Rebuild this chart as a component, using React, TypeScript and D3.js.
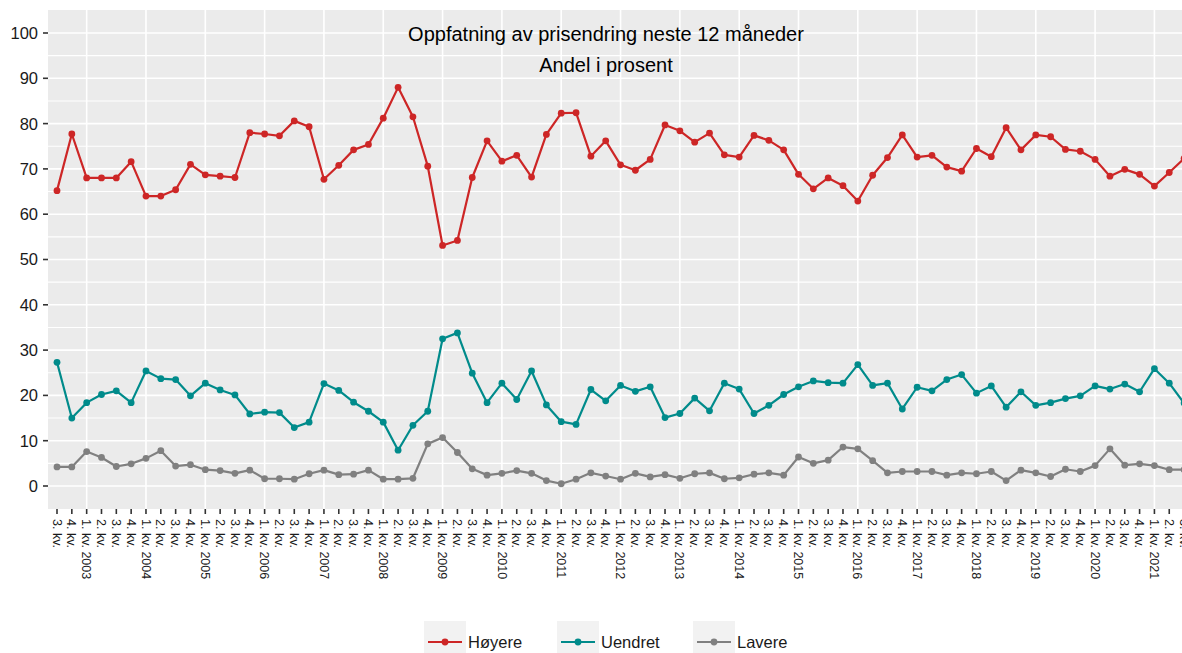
import React from "react";
import * as d3 from "d3";

const categories = [
  "3. kv. 2002", "4. kv. 2002",
  "1. kv. 2003", "2. kv. 2003", "3. kv. 2003", "4. kv. 2003",
  "1. kv. 2004", "2. kv. 2004", "3. kv. 2004", "4. kv. 2004",
  "1. kv. 2005", "2. kv. 2005", "3. kv. 2005", "4. kv. 2005",
  "1. kv. 2006", "2. kv. 2006", "3. kv. 2006", "4. kv. 2006",
  "1. kv. 2007", "2. kv. 2007", "3. kv. 2007", "4. kv. 2007",
  "1. kv. 2008", "2. kv. 2008", "3. kv. 2008", "4. kv. 2008",
  "1. kv. 2009", "2. kv. 2009", "3. kv. 2009", "4. kv. 2009",
  "1. kv. 2010", "2. kv. 2010", "3. kv. 2010", "4. kv. 2010",
  "1. kv. 2011", "2. kv. 2011", "3. kv. 2011", "4. kv. 2011",
  "1. kv. 2012", "2. kv. 2012", "3. kv. 2012", "4. kv. 2012",
  "1. kv. 2013", "2. kv. 2013", "3. kv. 2013", "4. kv. 2013",
  "1. kv. 2014", "2. kv. 2014", "3. kv. 2014", "4. kv. 2014",
  "1. kv. 2015", "2. kv. 2015", "3. kv. 2015", "4. kv. 2015",
  "1. kv. 2016", "2. kv. 2016", "3. kv. 2016", "4. kv. 2016",
  "1. kv. 2017", "2. kv. 2017", "3. kv. 2017", "4. kv. 2017",
  "1. kv. 2018", "2. kv. 2018", "3. kv. 2018", "4. kv. 2018",
  "1. kv. 2019", "2. kv. 2019", "3. kv. 2019", "4. kv. 2019",
  "1. kv. 2020", "2. kv. 2020", "3. kv. 2020", "4. kv. 2020",
  "1. kv. 2021", "2. kv. 2021", "3. kv. 2021",
];

const hoyere = [
  65.2, 77.7, 68.0, 68.0, 68.0, 71.6, 64.0, 64.0, 65.4, 71.0,
  68.7, 68.4, 68.1, 78.0, 77.7, 77.3, 80.6, 79.3, 67.7, 70.8,
  74.2, 75.4, 81.2, 88.0, 81.5, 70.6, 53.1, 54.2, 68.1, 76.2,
  71.7, 73.0, 68.2, 77.6, 82.3, 82.4, 72.8, 76.2, 70.9, 69.7,
  72.1, 79.7, 78.4, 75.9, 77.9, 73.1, 72.6, 77.4, 76.3, 74.2,
  68.8, 65.6, 68.0, 66.3, 62.9, 68.6, 72.5, 77.5, 72.6, 73.0,
  70.4, 69.5, 74.5, 72.7, 79.1, 74.2, 77.5, 77.1, 74.3, 73.9,
  72.1, 68.4, 69.9, 68.8, 66.2, 69.2, 72.3,
];

const uendret = [
  27.3, 15.0, 18.4, 20.2, 21.0, 18.4, 25.4, 23.7, 23.5, 19.9,
  22.7, 21.2, 20.1, 15.9, 16.3, 16.2, 12.9, 14.1, 22.6, 21.1,
  18.5, 16.5, 14.1, 7.9, 13.4, 16.5, 32.5, 33.8, 24.9, 18.4,
  22.7, 19.1, 25.4, 17.9, 14.2, 13.6, 21.3, 18.8, 22.2, 20.9,
  21.9, 15.1, 16.0, 19.4, 16.6, 22.7, 21.4, 16.0, 17.8, 20.2,
  21.9, 23.2, 22.8, 22.7, 26.8, 22.2, 22.7, 17.0, 21.8, 21.0,
  23.5, 24.6, 20.5, 22.1, 17.4, 20.8, 17.8, 18.4, 19.3, 19.9,
  22.1, 21.4, 22.5, 20.8, 25.9, 22.7, 18.3,
];

const lavere = [
  4.2, 4.2, 7.6, 6.3, 4.3, 4.9, 6.1, 7.8, 4.4, 4.7,
  3.6, 3.4, 2.8, 3.5, 1.6, 1.6, 1.5, 2.7, 3.5, 2.5,
  2.6, 3.5, 1.5, 1.5, 1.7, 9.3, 10.7, 7.4, 3.8, 2.4,
  2.8, 3.4, 2.8, 1.2, 0.5, 1.5, 2.9, 2.2, 1.5, 2.8,
  2.0, 2.5, 1.7, 2.7, 2.9, 1.6, 1.8, 2.6, 2.9, 2.4,
  6.4, 5.0, 5.7, 8.6, 8.2, 5.6, 2.9, 3.2, 3.2, 3.2,
  2.4, 2.9, 2.7, 3.2, 1.2, 3.5, 2.9, 2.1, 3.7, 3.2,
  4.5, 8.2, 4.6, 4.9, 4.5, 3.6, 3.6,
];

const seriesNames = ["Høyere", "Uendret", "Lavere"];
const seriesColors = ["#cd2626", "#008b8b", "#808080"];
const yTicks = [0, 10, 20, 30, 40, 50, 60, 70, 80, 90, 100];
const yMinor = [5, 15, 25, 35, 45, 55, 65, 75, 85, 95];
const titleLines = ["Oppfatning av prisendring neste 12 måneder", "Andel i prosent"];

const W = 1182;
const H = 653;
const FONT = "'Liberation Sans', Arial, sans-serif";

export default function App() {
  const panelLeft = 48;
  const panelTop = 10;
  const panelBottom = 509;
  const step = 14.83;
  const x0 = 57;

  const x = d3
    .scalePoint<string>()
    .domain(categories)
    .range([x0, x0 + step * (categories.length - 1)]);
  const y = d3.scaleLinear().domain([-5, 105]).range([508.65, 10.35]);

  const panelRight = x0 + step * (categories.length - 1) + step * 0.6;

  const allSeries = [hoyere, uendret, lavere];
  const line = d3
    .line<number>()
    .x((_, i) => x(categories[i]) as number)
    .y((d) => y(d));

  const legendKeys = [424, 557, 693];

  return (
    <div style={{ position: "absolute", left: 0, top: 0 }}>
      <svg width={W} height={H} style={{ display: "block" }}>
        <rect x={0} y={0} width={W} height={H} fill="#ffffff" />
        <rect
          x={panelLeft}
          y={panelTop}
          width={panelRight - panelLeft}
          height={panelBottom - panelTop}
          fill="#ebebeb"
        />
        {yMinor.map((t) => (
          <line
            key={"m" + t}
            x1={panelLeft}
            x2={panelRight}
            y1={y(t)}
            y2={y(t)}
            stroke="#ffffff"
            strokeWidth={1.1}
          />
        ))}
        {yTicks.map((t) => (
          <line
            key={"g" + t}
            x1={panelLeft}
            x2={panelRight}
            y1={y(t)}
            y2={y(t)}
            stroke="#ffffff"
            strokeWidth={1.6}
          />
        ))}
        {categories
          .filter((c) => c.startsWith("1."))
          .map((c) => (
            <line
              key={"v" + c}
              x1={x(c)}
              x2={x(c)}
              y1={panelTop}
              y2={panelBottom}
              stroke="#ffffff"
              strokeWidth={1.6}
            />
          ))}

        {titleLines.map((t, i) => (
          <text
            key={t}
            x={606}
            y={40.5 + i * 31.5}
            textAnchor="middle"
            fontFamily={FONT}
            fontSize={20}
            fill="#000000"
          >
            {t}
          </text>
        ))}

        {allSeries.map((s, si) => (
          <g key={seriesNames[si]}>
            <path
              d={line(s) as string}
              fill="none"
              stroke={seriesColors[si]}
              strokeWidth={2.2}
              strokeLinejoin="round"
            />
            {s.map((v, i) => (
              <circle
                key={i}
                cx={x(categories[i])}
                cy={y(v)}
                r={3.4}
                fill={seriesColors[si]}
              />
            ))}
          </g>
        ))}

        {yTicks.map((t) => (
          <g key={"yt" + t}>
            <line
              x1={panelLeft - 5}
              x2={panelLeft}
              y1={y(t)}
              y2={y(t)}
              stroke="#333333"
              strokeWidth={1.6}
            />
            <text
              x={panelLeft - 10}
              y={y(t)}
              dy="0.36em"
              textAnchor="end"
              fontFamily={FONT}
              fontSize={16.5}
              fill="#1a1a1a"
            >
              {t}
            </text>
          </g>
        ))}

        {categories.map((c) => {
          const xp = x(c) as number;
          const label = c.startsWith("1.") ? c : c.slice(0, 6);
          return (
            <g key={"xt" + c}>
              <line
                x1={xp}
                x2={xp}
                y1={panelBottom}
                y2={panelBottom + 5}
                stroke="#333333"
                strokeWidth={1.6}
              />
              <text
                transform={`translate(${xp},${panelBottom + 10}) rotate(90)`}
                dy="0.35em"
                textAnchor="start"
                fontFamily={FONT}
                fontSize={12.5}
                fill="#1a1a1a"
              >
                {label}
              </text>
            </g>
          );
        })}

        {seriesNames.map((n, i) => {
          const kx = legendKeys[i];
          return (
            <g key={"lg" + n}>
              <rect x={kx} y={621} width={42} height={34} fill="#f2f2f2" />
              <line
                x1={kx + 4}
                x2={kx + 38}
                y1={642}
                y2={642}
                stroke={seriesColors[i]}
                strokeWidth={2.2}
              />
              <circle cx={kx + 21} cy={642} r={3.4} fill={seriesColors[i]} />
              <text
                x={kx + 44}
                y={648}
                fontFamily={FONT}
                fontSize={16.5}
                fill="#1a1a1a"
              >
                {n}
              </text>
            </g>
          );
        })}
      </svg>
    </div>
  );
}
